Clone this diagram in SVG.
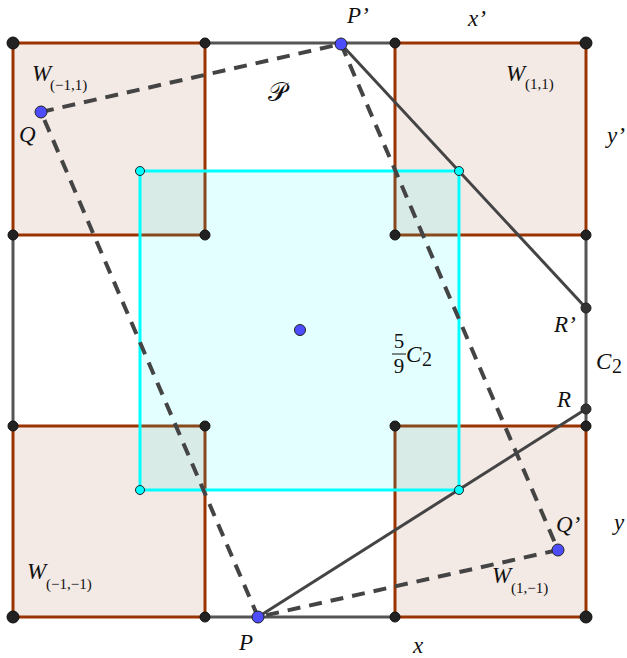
<svg xmlns="http://www.w3.org/2000/svg" width="627" height="658" viewBox="0 0 627 658">
<style>
.w{fill:#f3e9e5;stroke:#993300;stroke-width:3}
.cy{fill:#00ffff;fill-opacity:0.11;stroke:#00ffff;stroke-width:3}
.gr{stroke:#555;stroke-width:3;fill:none}
.sol{stroke:#444;stroke-width:3;fill:none}
.dash{stroke:#444;stroke-width:4;fill:none;stroke-dasharray:13,9}
.bk{fill:#222;stroke:#111;stroke-width:1}
.bl{fill:#4d4dff;stroke:#222;stroke-width:1}
.cd{fill:#00ffff;stroke:#222;stroke-width:1}
.gd{fill:#333;stroke:#222;stroke-width:1}
text{font-family:"Liberation Serif","DejaVu Serif",serif;fill:#111}
.it{font-style:italic;font-size:23px}
.sub{font-size:15px}
</style>
<rect width="627" height="658" fill="#fff"/>
<g id="W_m1_1"><rect class="w" x="13" y="43" width="192" height="192"/></g>
<g id="W_1_1"><rect class="w" x="395" y="43" width="191" height="192"/></g>
<g id="W_m1_m1"><rect class="w" x="13" y="426" width="192" height="191"/></g>
<g id="W_1_m1"><rect class="w" x="395" y="426" width="191" height="191"/></g>
<g id="C2scaled"><rect class="cy" x="140" y="171" width="319" height="319"/></g>
<g id="connectors">
<line class="gr" x1="205" y1="43" x2="395" y2="43"/>
<line class="gr" x1="205" y1="617" x2="395" y2="617"/>
<line class="gr" x1="13" y1="235" x2="13" y2="426"/>
<line class="gr" x1="586" y1="235" x2="586" y2="426"/>
<line class="sol" x1="341" y1="44" x2="586" y2="308"/>
<line class="sol" x1="258" y1="617" x2="586" y2="409"/>
<line class="dash" x1="41" y1="112" x2="341" y2="44"/>
<line class="dash" x1="341" y1="44" x2="558" y2="550"/>
<line class="dash" x1="558" y1="550" x2="258" y2="617"/>
<line class="dash" x1="258" y1="617" x2="41" y2="112"/>
</g>
<g id="points">
<circle class="bk" cx="13" cy="43" r="6"/>
<circle class="bk" cx="205" cy="43" r="5"/>
<circle class="bk" cx="395" cy="43" r="5"/>
<circle class="bk" cx="586" cy="43" r="6"/>
<circle class="bk" cx="13" cy="235" r="5"/>
<circle class="bk" cx="205" cy="235" r="5"/>
<circle class="bk" cx="395" cy="235" r="5"/>
<circle class="bk" cx="586" cy="235" r="5"/>
<circle class="bk" cx="13" cy="426" r="5"/>
<circle class="bk" cx="205" cy="426" r="5"/>
<circle class="bk" cx="395" cy="426" r="5"/>
<circle class="bk" cx="586" cy="426" r="5"/>
<circle class="bk" cx="13" cy="617" r="6"/>
<circle class="bk" cx="205" cy="617" r="5"/>
<circle class="bk" cx="395" cy="617" r="5"/>
<circle class="bk" cx="586" cy="617" r="6"/>
<circle class="cd" cx="140" cy="171" r="4.5"/>
<circle class="cd" cx="459" cy="171" r="4.5"/>
<circle class="cd" cx="140" cy="490" r="4.5"/>
<circle class="cd" cx="459" cy="490" r="4.5"/>
<circle class="gd" cx="586" cy="308" r="5"/>
<circle class="gd" cx="586" cy="409" r="5"/>
<circle class="bl" cx="300" cy="330" r="5.5"/>
<circle class="bl" cx="341" cy="44" r="6"/>
<circle class="bl" cx="41" cy="112" r="6"/>
<circle class="bl" cx="258" cy="617" r="6"/>
<circle class="bl" cx="558" cy="550" r="6"/>
</g>
<g id="labels">
<text class="it" x="347" y="23">P’</text>
<text class="it" x="468" y="26">x’</text>
<text class="it" x="32" y="81">W</text><text class="sub" x="50" y="90">(−1,1)</text>
<text class="it" x="19" y="142">Q</text>
<text x="268" y="101" style="font-family:'DejaVu Sans','Noto Sans',sans-serif;font-size:26px">𝒫</text>
<text class="it" x="506" y="81">W</text><text class="sub" x="525" y="89">(1,1)</text>
<text class="it" x="607" y="143">y’</text>
<text x="399" y="348" style="font-size:21px" text-anchor="middle">5</text>
<line x1="392" y1="354" x2="406" y2="354" stroke="#111" stroke-width="1"/>
<text x="399" y="373" style="font-size:21px" text-anchor="middle">9</text>
<text class="it" x="406" y="362">C</text><text x="422" y="366" style="font-size:20px">2</text>
<text class="it" x="554" y="332">R’</text>
<text class="it" x="596" y="369">C</text><text x="612" y="373" style="font-size:20px">2</text>
<text class="it" x="557" y="407">R</text>
<text class="it" x="556" y="532">Q’</text>
<text class="it" x="614" y="530">y</text>
<text class="it" x="492" y="583">W</text><text class="sub" x="511" y="593">(1,−1)</text>
<text class="it" x="27" y="579">W</text><text class="sub" x="46" y="589">(−1,−1)</text>
<text class="it" x="239" y="650">P</text>
<text class="it" x="413" y="653">x</text>
</g>
</svg>
